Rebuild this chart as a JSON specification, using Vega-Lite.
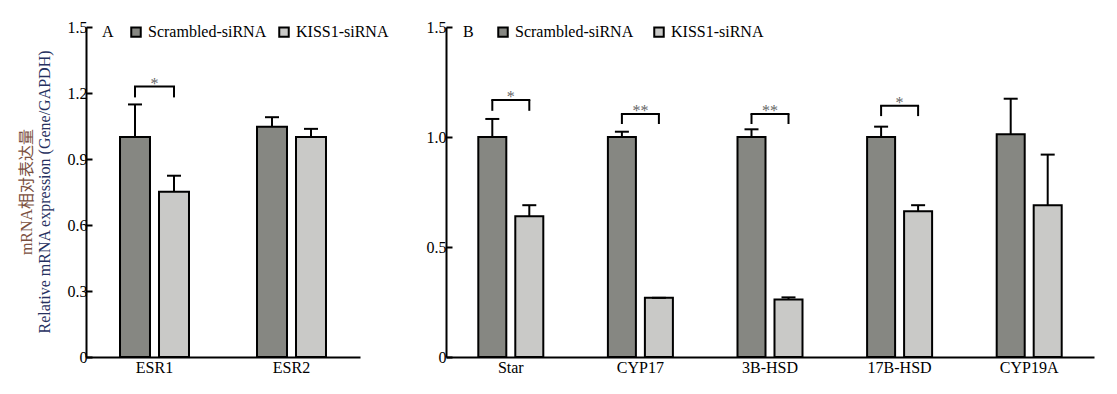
{
  "$schema": "https://vega.github.io/schema/vega-lite/v6.json",
  "padding": {"left": 18, "top": 19, "right": 5, "bottom": 5},
  "background": "white",
  "datasets": {
    "barsA": [
      {"gene": "ESR1", "group": "Scrambled-siRNA", "value": 1.0, "upper": 1.148},
      {"gene": "ESR1", "group": "KISS1-siRNA", "value": 0.751, "upper": 0.824},
      {"gene": "ESR2", "group": "Scrambled-siRNA", "value": 1.047, "upper": 1.09},
      {"gene": "ESR2", "group": "KISS1-siRNA", "value": 1.0, "upper": 1.037}
    ],
    "bracketA": [
      {"gene": "ESR1", "level": 1.229, "leg": 1.18, "label": "*"}
    ],
    "legsA": [
      {"gene": "ESR1", "group": "Scrambled-siRNA", "level": 1.229, "leg": 1.18},
      {"gene": "ESR1", "group": "KISS1-siRNA", "level": 1.229, "leg": 1.18}
    ],
    "barsB": [
      {"gene": "Star", "group": "Scrambled-siRNA", "value": 1.0, "upper": 1.082},
      {"gene": "Star", "group": "KISS1-siRNA", "value": 0.64, "upper": 0.69},
      {"gene": "CYP17", "group": "Scrambled-siRNA", "value": 1.0, "upper": 1.024},
      {"gene": "CYP17", "group": "KISS1-siRNA", "value": 0.269, "upper": 0.269},
      {"gene": "3B-HSD", "group": "Scrambled-siRNA", "value": 1.0, "upper": 1.035},
      {"gene": "3B-HSD", "group": "KISS1-siRNA", "value": 0.261, "upper": 0.271},
      {"gene": "17B-HSD", "group": "Scrambled-siRNA", "value": 1.0, "upper": 1.047},
      {"gene": "17B-HSD", "group": "KISS1-siRNA", "value": 0.663, "upper": 0.69},
      {"gene": "CYP19A", "group": "Scrambled-siRNA", "value": 1.012, "upper": 1.174},
      {"gene": "CYP19A", "group": "KISS1-siRNA", "value": 0.69, "upper": 0.92}
    ],
    "bracketB": [
      {"gene": "Star", "level": 1.168, "leg": 1.119, "label": "*"},
      {"gene": "CYP17", "level": 1.104, "leg": 1.059, "label": "**"},
      {"gene": "3B-HSD", "level": 1.104, "leg": 1.059, "label": "**"},
      {"gene": "17B-HSD", "level": 1.142, "leg": 1.095, "label": "*"}
    ],
    "legsB": [
      {"gene": "Star", "group": "Scrambled-siRNA", "level": 1.168, "leg": 1.119},
      {"gene": "Star", "group": "KISS1-siRNA", "level": 1.168, "leg": 1.119},
      {"gene": "CYP17", "group": "Scrambled-siRNA", "level": 1.104, "leg": 1.059},
      {"gene": "CYP17", "group": "KISS1-siRNA", "level": 1.104, "leg": 1.059},
      {"gene": "3B-HSD", "group": "Scrambled-siRNA", "level": 1.104, "leg": 1.059},
      {"gene": "3B-HSD", "group": "KISS1-siRNA", "level": 1.104, "leg": 1.059},
      {"gene": "17B-HSD", "group": "Scrambled-siRNA", "level": 1.142, "leg": 1.095},
      {"gene": "17B-HSD", "group": "KISS1-siRNA", "level": 1.142, "leg": 1.095}
    ]
  },
  "spacing": 37,
  "resolve": {"scale": {"color": "independent", "y": "independent", "x": "independent", "xOffset": "independent"}, "legend": {"color": "independent"}},
  "hconcat": [
    {
      "width": 274,
      "height": 330,
      "title": {
        "text": "mRNA相对表达量",
        "subtitle": "Relative mRNA expression (Gene/GAPDH)",
        "orient": "left",
        "anchor": "middle",
        "frame": "group",
        "font": "Liberation Serif, Noto Sans CJK SC",
        "fontSize": 16,
        "fontWeight": "normal",
        "color": "#7a5040",
        "subtitleFont": "Liberation Serif",
        "subtitleFontSize": 16,
        "subtitleColor": "#263060",
        "subtitlePadding": 2,
        "offset": 14
      },
      "layer": [
        {
          "data": {"name": "barsA"},
          "mark": {"type": "bar", "stroke": "black", "strokeWidth": 2},
          "encoding": {
            "x": {"field": "gene", "type": "nominal", "sort": ["ESR1", "ESR2"], "scale": {"paddingInner": 0, "paddingOuter": 0},
                  "axis": {"title": null, "labelAngle": 0, "ticks": false, "tickSize": 0, "labelPadding": 2, "domainWidth": 2, "domainColor": "black", "labelFontSize": 16, "labelColor": "black", "labelFont": "Liberation Serif"}},
            "xOffset": {"field": "group", "type": "nominal", "sort": ["Scrambled-siRNA", "KISS1-siRNA"], "scale": {"paddingInner": 0.231, "paddingOuter": 0.872}},
            "y": {"field": "value", "type": "quantitative", "scale": {"domain": [0, 1.5], "nice": false, "zero": true},
                  "axis": {"title": null, "values": [0, 0.3, 0.6, 0.9, 1.2, 1.5], "labelExpr": "datum.value == 0 ? '0' : format(datum.value, '.1f')", "tickSize": -6, "tickWidth": 2, "tickColor": "black", "labelPadding": 5, "domainWidth": 2, "domainColor": "black", "labelFontSize": 16, "labelColor": "black", "labelFont": "Liberation Serif", "grid": false}},
            "color": {"field": "group", "type": "nominal", "sort": ["Scrambled-siRNA", "KISS1-siRNA"],
                      "scale": {"domain": ["Scrambled-siRNA", "KISS1-siRNA"], "range": ["#868782", "#c9c9c7"]},
                      "legend": {"orient": "none", "legendX": 16, "legendY": -3, "direction": "horizontal", "title": "A", "titleOrient": "left", "titleFont": "Liberation Serif", "titleFontSize": 16, "titleFontWeight": "normal", "titleColor": "black", "titlePadding": 14, "labelFont": "Liberation Serif", "labelFontSize": 16, "labelColor": "black", "symbolType": "square", "symbolSize": 90, "symbolStrokeColor": "black", "symbolStrokeWidth": 2, "labelOffset": 4, "columnPadding": 8, "padding": 0}}
          }
        },
        {
          "data": {"name": "barsA"},
          "mark": {"type": "rule", "color": "black", "strokeWidth": 2},
          "encoding": {
            "x": {"field": "gene", "type": "nominal", "sort": ["ESR1", "ESR2"]},
            "xOffset": {"field": "group", "type": "nominal", "sort": ["Scrambled-siRNA", "KISS1-siRNA"]},
            "y": {"field": "value", "type": "quantitative"},
            "y2": {"field": "upper"}
          }
        },
        {
          "data": {"name": "barsA"},
          "mark": {"type": "tick", "orient": "horizontal", "color": "black", "size": 14, "thickness": 2, "opacity": 1},
          "encoding": {
            "x": {"field": "gene", "type": "nominal", "sort": ["ESR1", "ESR2"]},
            "xOffset": {"field": "group", "type": "nominal", "sort": ["Scrambled-siRNA", "KISS1-siRNA"]},
            "y": {"field": "upper", "type": "quantitative"}
          }
        },
        {
          "data": {"name": "legsA"},
          "mark": {"type": "rule", "color": "black", "strokeWidth": 2},
          "encoding": {
            "x": {"field": "gene", "type": "nominal", "sort": ["ESR1", "ESR2"]},
            "xOffset": {"field": "group", "type": "nominal", "sort": ["Scrambled-siRNA", "KISS1-siRNA"]},
            "y": {"field": "leg", "type": "quantitative"},
            "y2": {"field": "level"}
          }
        },
        {
          "data": {"name": "bracketA"},
          "mark": {"type": "tick", "orient": "horizontal", "color": "black", "size": 41, "thickness": 2, "opacity": 1},
          "encoding": {
            "x": {"field": "gene", "type": "nominal", "sort": ["ESR1", "ESR2"]},
            "y": {"field": "level", "type": "quantitative"}
          }
        },
        {
          "data": {"name": "bracketA"},
          "mark": {"type": "text", "font": "Liberation Serif", "fontSize": 16, "color": "#666666", "baseline": "alphabetic", "dy": 2},
          "encoding": {
            "x": {"field": "gene", "type": "nominal", "sort": ["ESR1", "ESR2"]},
            "y": {"field": "level", "type": "quantitative"},
            "text": {"field": "label"}
          }
        }
      ]
    },
    {
      "width": 648,
      "height": 330,
      "layer": [
        {
          "data": {"name": "barsB"},
          "mark": {"type": "bar", "stroke": "black", "strokeWidth": 2},
          "encoding": {
            "x": {"field": "gene", "type": "nominal", "sort": ["Star", "CYP17", "3B-HSD", "17B-HSD", "CYP19A"], "scale": {"paddingInner": 0, "paddingOuter": 0},
                  "axis": {"title": null, "labelAngle": 0, "ticks": false, "tickSize": 0, "labelPadding": 2, "domainWidth": 2, "domainColor": "black", "labelFontSize": 16, "labelColor": "black", "labelFont": "Liberation Serif"}},
            "xOffset": {"field": "group", "type": "nominal", "sort": ["Scrambled-siRNA", "KISS1-siRNA"], "scale": {"paddingInner": 0.243, "paddingOuter": 0.873}},
            "y": {"field": "value", "type": "quantitative", "scale": {"domain": [0, 1.5], "nice": false, "zero": true},
                  "axis": {"title": null, "values": [0, 0.5, 1.0, 1.5], "labelExpr": "datum.value == 0 ? '0' : format(datum.value, '.1f')", "tickSize": -6, "tickWidth": 2, "tickColor": "black", "labelPadding": 6, "domainWidth": 2, "domainColor": "black", "labelFontSize": 16, "labelColor": "black", "labelFont": "Liberation Serif", "grid": false}},
            "color": {"field": "group", "type": "nominal", "sort": ["Scrambled-siRNA", "KISS1-siRNA"],
                      "scale": {"domain": ["Scrambled-siRNA", "KISS1-siRNA"], "range": ["#868782", "#c9c9c7"]},
                      "legend": {"orient": "none", "legendX": 17, "legendY": -3, "direction": "horizontal", "title": "B", "titleOrient": "left", "titleFont": "Liberation Serif", "titleFontSize": 16, "titleFontWeight": "normal", "titleColor": "black", "titlePadding": 21, "labelFont": "Liberation Serif", "labelFontSize": 16, "labelColor": "black", "symbolType": "square", "symbolSize": 90, "symbolStrokeColor": "black", "symbolStrokeWidth": 2, "labelOffset": 4, "columnPadding": 16, "padding": 0}}
          }
        },
        {
          "data": {"name": "barsB"},
          "mark": {"type": "rule", "color": "black", "strokeWidth": 2},
          "encoding": {
            "x": {"field": "gene", "type": "nominal", "sort": ["Star", "CYP17", "3B-HSD", "17B-HSD", "CYP19A"]},
            "xOffset": {"field": "group", "type": "nominal", "sort": ["Scrambled-siRNA", "KISS1-siRNA"]},
            "y": {"field": "value", "type": "quantitative"},
            "y2": {"field": "upper"}
          }
        },
        {
          "data": {"name": "barsB"},
          "mark": {"type": "tick", "orient": "horizontal", "color": "black", "size": 14, "thickness": 2, "opacity": 1},
          "encoding": {
            "x": {"field": "gene", "type": "nominal", "sort": ["Star", "CYP17", "3B-HSD", "17B-HSD", "CYP19A"]},
            "xOffset": {"field": "group", "type": "nominal", "sort": ["Scrambled-siRNA", "KISS1-siRNA"]},
            "y": {"field": "upper", "type": "quantitative"}
          }
        },
        {
          "data": {"name": "legsB"},
          "mark": {"type": "rule", "color": "black", "strokeWidth": 2},
          "encoding": {
            "x": {"field": "gene", "type": "nominal", "sort": ["Star", "CYP17", "3B-HSD", "17B-HSD", "CYP19A"]},
            "xOffset": {"field": "group", "type": "nominal", "sort": ["Scrambled-siRNA", "KISS1-siRNA"]},
            "y": {"field": "leg", "type": "quantitative"},
            "y2": {"field": "level"}
          }
        },
        {
          "data": {"name": "bracketB"},
          "mark": {"type": "tick", "orient": "horizontal", "color": "black", "size": 39, "thickness": 2, "opacity": 1},
          "encoding": {
            "x": {"field": "gene", "type": "nominal", "sort": ["Star", "CYP17", "3B-HSD", "17B-HSD", "CYP19A"]},
            "y": {"field": "level", "type": "quantitative"}
          }
        },
        {
          "data": {"name": "bracketB"},
          "mark": {"type": "text", "font": "Liberation Serif", "fontSize": 16, "color": "#666666", "baseline": "alphabetic", "dy": 2},
          "encoding": {
            "x": {"field": "gene", "type": "nominal", "sort": ["Star", "CYP17", "3B-HSD", "17B-HSD", "CYP19A"]},
            "y": {"field": "level", "type": "quantitative"},
            "text": {"field": "label"}
          }
        }
      ]
    }
  ],
  "config": {
    "font": "Liberation Serif",
    "view": {"stroke": null},
    "axis": {"grid": false}
  }
}
